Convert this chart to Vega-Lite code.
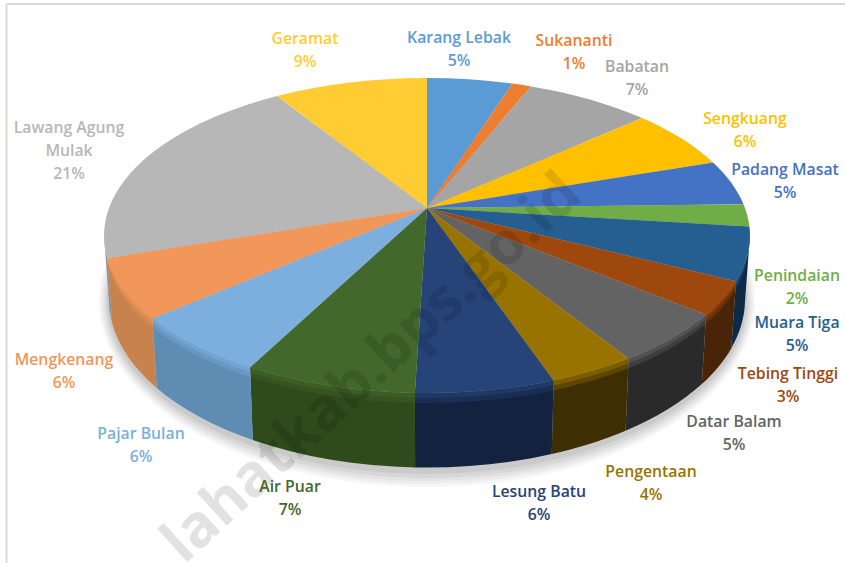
{"$schema":"https://vega.github.io/schema/vega-lite/v6.json","width":845,"height":563,"padding":0,"autosize":{"type":"fit","contains":"padding"},"background":"white","config":{"view":{"stroke":null},"legend":{"disable":true},"axis":{"disable":true},"text":{"font":"Open Sans","fontSize":15.8,"fontWeight":600,"lineBreak":"\n","lineHeight":23,"align":"center","baseline":"middle"}},
"data":{"values":[{"name":"Karang Lebak","value":5.06},{"name":"Sukananti","value":1.14},{"name":"Babatan","value":7.4},{"name":"Sengkuang","value":6.3},{"name":"Padang Masat","value":4.7},{"name":"Penindaian","value":2.3},{"name":"Muara Tiga","value":5.4},{"name":"Tebing Tinggi","value":3.4},{"name":"Datar Balam","value":5.2},{"name":"Pengentaan","value":3.7},{"name":"Lesung Batu","value":5.9},{"name":"Air Puar","value":7.3},{"name":"Pajar Bulan","value":6.1},{"name":"Mengkenang","value":6.1},{"name":"Lawang Agung Mulak","value":20.9},{"name":"Geramat","value":9.1}]},
"transform":[{"window":[{"op":"sum","field":"value","as":"end"}]},{"calculate":"datum.end-datum.value","as":"start"},
{"calculate":"replace(datum.name,'Agung ','Agung\\n')+'\\n'+round(datum.value)+'%'","as":"label"},
{"calculate":"datum.start*PI/50","as":"t1"},{"calculate":"datum.end*PI/50","as":"t2"},
{"calculate":"318*sin(datum.t1)/(1+0.1746*cos(datum.t1))","as":"x1"},{"calculate":"-152.7*cos(datum.t1)/(1+0.1746*cos(datum.t1))","as":"y1"},
{"calculate":"318*sin(datum.t2)/(1+0.1746*cos(datum.t2))","as":"x2"},{"calculate":"-152.7*cos(datum.t2)/(1+0.1746*cos(datum.t2))","as":"y2"},
{"calculate":"'M0,0L'+datum.x1+','+datum.y1+'A323,157.5 0 0 1 '+datum.x2+','+datum.y2+'Z'","as":"facePath"},
{"calculate":"clamp(datum.start,27.8,72.2)*PI/50","as":"w1"},{"calculate":"clamp(datum.end,27.8,72.2)*PI/50","as":"w2"},
{"calculate":"318*sin(datum.w1)/(1+0.1746*cos(datum.w1))","as":"a1"},{"calculate":"-152.7*cos(datum.w1)/(1+0.1746*cos(datum.w1))","as":"b1"},
{"calculate":"318*sin(datum.w2)/(1+0.1746*cos(datum.w2))","as":"a2"},{"calculate":"-152.7*cos(datum.w2)/(1+0.1746*cos(datum.w2))","as":"b2"},
{"calculate":"91.5+168*sqrt(max(0,1-pow(datum.a1/323,2)))","as":"c1"},{"calculate":"91.5+168*sqrt(max(0,1-pow(datum.a2/323,2)))","as":"c2"},
{"calculate":"'M'+datum.a1+','+datum.b1+'A323,157.5 0 0 1 '+datum.a2+','+datum.b2+'L'+(datum.a2*318/323)+','+datum.c2+'A318,168 0 0 0 '+(datum.a1*318/323)+','+datum.c1+'Z'","as":"wallPath"},
{"calculate":"'M'+datum.a1+','+datum.b1+'A323,157.5 0 0 1 '+datum.a2+','+datum.b2+'L'+(datum.a2*0.995)+','+(datum.b2+10)+'A321,157.5 0 0 0 '+(datum.a1*0.995)+','+(datum.b1+10)+'Z'","as":"bandPath"},
{"calculate":"'M'+datum.a1+','+datum.b1+'A323,157.5 0 0 1 '+datum.a2+','+datum.b2+'L'+(datum.a2*0.9975)+','+(datum.b2+5)+'A322,157.5 0 0 0 '+(datum.a1*0.9975)+','+(datum.b1+5)+'Z'","as":"bandPath2"}],
"layer":[
{"data":{"values":[{"part":"shadow"}]},"mark":{"type":"point","filled":true,"opacity":0.035,"color":"#000000","shape":"M-328,93A328,186 0 0 0 328,93A328,186 0 0 0 -328,93Z","size":4},"encoding":{"x":{"datum":0,"type":"quantitative","scale":{"domain":[-427,418],"range":[0,845],"nice":false,"zero":false}},"y":{"datum":0,"type":"quantitative","scale":{"domain":[-208,355],"range":[0,563],"nice":false,"zero":false}}}},
{"data":{"values":[{"part":"shadow"}]},"mark":{"type":"point","filled":true,"opacity":0.035,"color":"#000000","shape":"M-326,93A326,183 0 0 0 326,93A326,183 0 0 0 -326,93Z","size":4},"encoding":{"x":{"datum":0,"type":"quantitative","scale":{"domain":[-427,418],"range":[0,845],"nice":false,"zero":false}},"y":{"datum":0,"type":"quantitative","scale":{"domain":[-208,355],"range":[0,563],"nice":false,"zero":false}}}},
{"data":{"values":[{"part":"shadow"}]},"mark":{"type":"point","filled":true,"opacity":0.04,"color":"#000000","shape":"M-324,93A324,180 0 0 0 324,93A324,180 0 0 0 -324,93Z","size":4},"encoding":{"x":{"datum":0,"type":"quantitative","scale":{"domain":[-427,418],"range":[0,845],"nice":false,"zero":false}},"y":{"datum":0,"type":"quantitative","scale":{"domain":[-208,355],"range":[0,563],"nice":false,"zero":false}}}},
{"data":{"values":[{"part":"shadow"}]},"mark":{"type":"point","filled":true,"opacity":0.05,"color":"#000000","shape":"M-322,93A322,177 0 0 0 322,93A322,177 0 0 0 -322,93Z","size":4},"encoding":{"x":{"datum":0,"type":"quantitative","scale":{"domain":[-427,418],"range":[0,845],"nice":false,"zero":false}},"y":{"datum":0,"type":"quantitative","scale":{"domain":[-208,355],"range":[0,563],"nice":false,"zero":false}}}},
{"data":{"values":[{"part":"shadow"}]},"mark":{"type":"point","filled":true,"opacity":0.06,"color":"#000000","shape":"M-320,93A320,173 0 0 0 320,93A320,173 0 0 0 -320,93Z","size":4},"encoding":{"x":{"datum":0,"type":"quantitative","scale":{"domain":[-427,418],"range":[0,845],"nice":false,"zero":false}},"y":{"datum":0,"type":"quantitative","scale":{"domain":[-208,355],"range":[0,563],"nice":false,"zero":false}}}},
{"data":{"values":[{"part":"frame"}]},"mark":{"type":"rule","color":"#d9d9d9","strokeWidth":2},"encoding":{"x":{"datum":-420.5,"type":"quantitative","scale":{"domain":[-427,418],"range":[0,845],"nice":false,"zero":false}},"y":{"datum":-204,"type":"quantitative","scale":{"domain":[-208,355],"range":[0,563],"nice":false,"zero":false}},"y2":{"datum":355}}},
{"data":{"values":[{"part":"frame"}]},"mark":{"type":"rule","color":"#d9d9d9","strokeWidth":2},"encoding":{"y":{"datum":-204,"type":"quantitative","scale":{"domain":[-208,355],"range":[0,563],"nice":false,"zero":false}},"x":{"datum":-420.5,"type":"quantitative","scale":{"domain":[-427,418],"range":[0,845],"nice":false,"zero":false}},"x2":{"datum":418}}},
{"transform":[{"filter":"datum.end>27.8&&datum.start<72.2"}],"mark":{"type":"point","filled":true,"opacity":1,"strokeWidth":0},"encoding":{"x":{"datum":0,"type":"quantitative","scale":{"domain":[-427,418],"range":[0,845],"nice":false,"zero":false}},"y":{"datum":0,"type":"quantitative","scale":{"domain":[-208,355],"range":[0,563],"nice":false,"zero":false}},"shape":{"field":"wallPath","type":"nominal","scale":null},"size":{"value":4},"fill":{"field":"name","type":"nominal","scale":{"domain":["Karang Lebak","Sukananti","Babatan","Sengkuang","Padang Masat","Penindaian","Muara Tiga","Tebing Tinggi","Datar Balam","Pengentaan","Lesung Batu","Air Puar","Pajar Bulan","Mengkenang","Lawang Agung Mulak","Geramat"],"range":["#5B9BD5","#ED7D31","#A5A5A5","#FFC000","#4472C4","#70AD47","#0D2A47","#4A2408","#2A2A2A","#3E2E03","#13233F","#2F4A1B","#5E8CB3","#C8824E","#8F8F8F","#FFCD33"]}}}},
{"transform":[{"filter":"datum.end>27.8&&datum.start<72.2"}],"mark":{"type":"point","filled":true,"opacity":0.35,"strokeWidth":0},"encoding":{"x":{"datum":0,"type":"quantitative","scale":{"domain":[-427,418],"range":[0,845],"nice":false,"zero":false}},"y":{"datum":0,"type":"quantitative","scale":{"domain":[-208,355],"range":[0,563],"nice":false,"zero":false}},"shape":{"field":"bandPath","type":"nominal","scale":null},"size":{"value":4},"color":{"field":"name","type":"nominal"}}},
{"transform":[{"filter":"datum.end>27.8&&datum.start<72.2"}],"mark":{"type":"point","filled":true,"opacity":0.5,"strokeWidth":0},"encoding":{"x":{"datum":0,"type":"quantitative","scale":{"domain":[-427,418],"range":[0,845],"nice":false,"zero":false}},"y":{"datum":0,"type":"quantitative","scale":{"domain":[-208,355],"range":[0,563],"nice":false,"zero":false}},"shape":{"field":"bandPath2","type":"nominal","scale":null},"size":{"value":4},"color":{"field":"name","type":"nominal"}}},
{"mark":{"type":"point","filled":true,"opacity":1,"strokeWidth":0},"encoding":{"x":{"datum":0,"type":"quantitative","scale":{"domain":[-427,418],"range":[0,845],"nice":false,"zero":false}},"y":{"datum":0,"type":"quantitative","scale":{"domain":[-208,355],"range":[0,563],"nice":false,"zero":false}},"shape":{"field":"facePath","type":"nominal","scale":null},"size":{"value":4},"color":{"field":"name","type":"nominal","scale":{"domain":["Karang Lebak","Sukananti","Babatan","Sengkuang","Padang Masat","Penindaian","Muara Tiga","Tebing Tinggi","Datar Balam","Pengentaan","Lesung Batu","Air Puar","Pajar Bulan","Mengkenang","Lawang Agung Mulak","Geramat"],"range":["#5B9BD5","#ED7D31","#A5A5A5","#FFC000","#4472C4","#70AD47","#255E91","#9E480E","#636363","#997300","#264478","#43682B","#7CAFDD","#F1975A","#B7B7B7","#FFCD33"]}}}},
{"data":{"values":[{"mark":"lahatkab.bps.go.id"}]},"mark":{"type":"text","font":"Open Sans","fontSize":59,"fontWeight":700,"angle":-42.5,"align":"right","color":"#000000","opacity":0.11},"encoding":{"text":{"field":"mark"},"x":{"datum":145,"type":"quantitative","scale":{"domain":[-427,418],"range":[0,845],"nice":false,"zero":false}},"y":{"datum":-23,"type":"quantitative","scale":{"domain":[-208,355],"range":[0,563],"nice":false,"zero":false}}}},
{"transform":[{"filter":"datum.name==='Karang Lebak'"}],"mark":"text","encoding":{"text":{"field":"label"},"color":{"field":"name","type":"nominal"},"x":{"datum":32,"type":"quantitative","scale":{"domain":[-427,418],"range":[0,845],"nice":false,"zero":false}},"y":{"datum":-170.5,"type":"quantitative","scale":{"domain":[-208,355],"range":[0,563],"nice":false,"zero":false}}}},
{"transform":[{"filter":"datum.name==='Sukananti'"}],"mark":"text","encoding":{"text":{"field":"label"},"color":{"field":"name","type":"nominal"},"x":{"datum":147,"type":"quantitative","scale":{"domain":[-427,418],"range":[0,845],"nice":false,"zero":false}},"y":{"datum":-167.5,"type":"quantitative","scale":{"domain":[-208,355],"range":[0,563],"nice":false,"zero":false}}}},
{"transform":[{"filter":"datum.name==='Babatan'"}],"mark":"text","encoding":{"text":{"field":"label"},"color":{"field":"name","type":"nominal"},"x":{"datum":210,"type":"quantitative","scale":{"domain":[-427,418],"range":[0,845],"nice":false,"zero":false}},"y":{"datum":-141.5,"type":"quantitative","scale":{"domain":[-208,355],"range":[0,563],"nice":false,"zero":false}}}},
{"transform":[{"filter":"datum.name==='Sengkuang'"}],"mark":"text","encoding":{"text":{"field":"label"},"color":{"field":"name","type":"nominal"},"x":{"datum":318,"type":"quantitative","scale":{"domain":[-427,418],"range":[0,845],"nice":false,"zero":false}},"y":{"datum":-89.5,"type":"quantitative","scale":{"domain":[-208,355],"range":[0,563],"nice":false,"zero":false}}}},
{"transform":[{"filter":"datum.name==='Padang Masat'"}],"mark":"text","encoding":{"text":{"field":"label"},"color":{"field":"name","type":"nominal"},"x":{"datum":358,"type":"quantitative","scale":{"domain":[-427,418],"range":[0,845],"nice":false,"zero":false}},"y":{"datum":-38.5,"type":"quantitative","scale":{"domain":[-208,355],"range":[0,563],"nice":false,"zero":false}}}},
{"transform":[{"filter":"datum.name==='Penindaian'"}],"mark":"text","encoding":{"text":{"field":"label"},"color":{"field":"name","type":"nominal"},"x":{"datum":370,"type":"quantitative","scale":{"domain":[-427,418],"range":[0,845],"nice":false,"zero":false}},"y":{"datum":67.5,"type":"quantitative","scale":{"domain":[-208,355],"range":[0,563],"nice":false,"zero":false}}}},
{"transform":[{"filter":"datum.name==='Muara Tiga'"}],"mark":"text","encoding":{"text":{"field":"label"},"color":{"field":"name","type":"nominal"},"x":{"datum":370,"type":"quantitative","scale":{"domain":[-427,418],"range":[0,845],"nice":false,"zero":false}},"y":{"datum":114.5,"type":"quantitative","scale":{"domain":[-208,355],"range":[0,563],"nice":false,"zero":false}}}},
{"transform":[{"filter":"datum.name==='Tebing Tinggi'"}],"mark":"text","encoding":{"text":{"field":"label"},"color":{"field":"name","type":"nominal"},"x":{"datum":361,"type":"quantitative","scale":{"domain":[-427,418],"range":[0,845],"nice":false,"zero":false}},"y":{"datum":165.5,"type":"quantitative","scale":{"domain":[-208,355],"range":[0,563],"nice":false,"zero":false}}}},
{"transform":[{"filter":"datum.name==='Datar Balam'"}],"mark":"text","encoding":{"text":{"field":"label"},"color":{"field":"name","type":"nominal"},"x":{"datum":307,"type":"quantitative","scale":{"domain":[-427,418],"range":[0,845],"nice":false,"zero":false}},"y":{"datum":213.5,"type":"quantitative","scale":{"domain":[-208,355],"range":[0,563],"nice":false,"zero":false}}}},
{"transform":[{"filter":"datum.name==='Pengentaan'"}],"mark":"text","encoding":{"text":{"field":"label"},"color":{"field":"name","type":"nominal"},"x":{"datum":224,"type":"quantitative","scale":{"domain":[-427,418],"range":[0,845],"nice":false,"zero":false}},"y":{"datum":263.5,"type":"quantitative","scale":{"domain":[-208,355],"range":[0,563],"nice":false,"zero":false}}}},
{"transform":[{"filter":"datum.name==='Lesung Batu'"}],"mark":"text","encoding":{"text":{"field":"label"},"color":{"field":"name","type":"nominal"},"x":{"datum":112,"type":"quantitative","scale":{"domain":[-427,418],"range":[0,845],"nice":false,"zero":false}},"y":{"datum":283.5,"type":"quantitative","scale":{"domain":[-208,355],"range":[0,563],"nice":false,"zero":false}}}},
{"transform":[{"filter":"datum.name==='Air Puar'"}],"mark":"text","encoding":{"text":{"field":"label"},"color":{"field":"name","type":"nominal"},"x":{"datum":-137,"type":"quantitative","scale":{"domain":[-427,418],"range":[0,845],"nice":false,"zero":false}},"y":{"datum":278.5,"type":"quantitative","scale":{"domain":[-208,355],"range":[0,563],"nice":false,"zero":false}}}},
{"transform":[{"filter":"datum.name==='Pajar Bulan'"}],"mark":"text","encoding":{"text":{"field":"label"},"color":{"field":"name","type":"nominal"},"x":{"datum":-286,"type":"quantitative","scale":{"domain":[-427,418],"range":[0,845],"nice":false,"zero":false}},"y":{"datum":225.5,"type":"quantitative","scale":{"domain":[-208,355],"range":[0,563],"nice":false,"zero":false}}}},
{"transform":[{"filter":"datum.name==='Mengkenang'"}],"mark":"text","encoding":{"text":{"field":"label"},"color":{"field":"name","type":"nominal"},"x":{"datum":-363,"type":"quantitative","scale":{"domain":[-427,418],"range":[0,845],"nice":false,"zero":false}},"y":{"datum":151.5,"type":"quantitative","scale":{"domain":[-208,355],"range":[0,563],"nice":false,"zero":false}}}},
{"transform":[{"filter":"datum.name==='Lawang Agung Mulak'"}],"mark":"text","encoding":{"text":{"field":"label"},"color":{"field":"name","type":"nominal"},"x":{"datum":-358,"type":"quantitative","scale":{"domain":[-427,418],"range":[0,845],"nice":false,"zero":false}},"y":{"datum":-80,"type":"quantitative","scale":{"domain":[-208,355],"range":[0,563],"nice":false,"zero":false}}}},
{"transform":[{"filter":"datum.name==='Geramat'"}],"mark":"text","encoding":{"text":{"field":"label"},"color":{"field":"name","type":"nominal"},"x":{"datum":-122,"type":"quantitative","scale":{"domain":[-427,418],"range":[0,845],"nice":false,"zero":false}},"y":{"datum":-169.5,"type":"quantitative","scale":{"domain":[-208,355],"range":[0,563],"nice":false,"zero":false}}}}
]}
